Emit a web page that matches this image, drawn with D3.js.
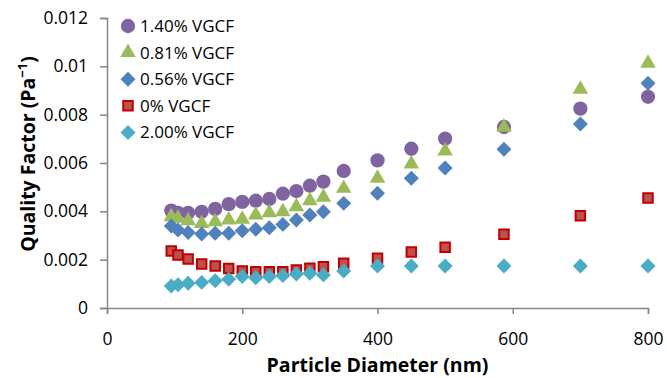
<!DOCTYPE html>
<html>
<head>
<meta charset="utf-8">
<script src="https://cdn.jsdelivr.net/npm/d3@7"></script>
<style>
  body { margin: 0; background: #fff; }
  svg text { font-family: "Open Sans", "DejaVu Sans", sans-serif; fill: #000; }
</style>
</head>
<body>
<div id="chart"></div>
<script>
// particle diameters (nm)
var diam = [95, 105, 120, 140, 160, 180, 200, 220, 240, 260, 280, 300, 320, 350, 400, 450, 500, 587, 700, 800];

// quality factor per VGCF loading (Pa^-1)
var qf140 = [0.00403, 0.00394, 0.00394, 0.00398, 0.0041, 0.0043, 0.00439, 0.00444, 0.00451, 0.00473, 0.00484, 0.00506, 0.00523,
             0.00567, 0.00611, 0.00659, 0.00701, 0.00749, 0.00825, 0.00874];
var qf081 = [0.00378, 0.00371, 0.00361, 0.0035, 0.00357, 0.00364, 0.00367, 0.00385, 0.00394, 0.00398, 0.00419, 0.00444, 0.00458,
             0.00495, 0.00537, 0.00596, 0.0065, 0.00748, 0.00905, 0.01013];
var qf056 = [0.00339, 0.00323, 0.00312, 0.00306, 0.00309, 0.00309, 0.0032, 0.00326, 0.00332, 0.00346, 0.00364, 0.00385, 0.00398,
             0.00433, 0.00475, 0.00537, 0.00579, 0.00657, 0.00761, 0.0093];
var qf000 = [0.00236, 0.00219, 0.00203, 0.00182, 0.00174, 0.00163, 0.00153, 0.0015, 0.0015, 0.0015, 0.00157, 0.00164, 0.00171,
             0.00185, 0.00206, 0.00232, 0.00251, 0.00305, 0.00382, 0.00455];
var qf200 = [0.00091, 0.00096, 0.00102, 0.00106, 0.00113, 0.00119, 0.0013, 0.00125, 0.0013, 0.00134, 0.00141, 0.00144, 0.00137,
             0.00153, 0.00174, 0.00174, 0.00174, 0.00174, 0.00174, 0.00174];

var seriesNames = ["1.40% VGCF", "0.81% VGCF", "0.56% VGCF", "0% VGCF", "2.00% VGCF"];
var xTicks = [0, 200, 400, 600, 800];
var yTicks = [0, 0.002, 0.004, 0.006, 0.008, 0.01, 0.012];

var W = 667, H = 378;
var margin = {top: 18, right: 19, bottom: 70, left: 107};

var svg = d3.select("#chart").append("svg")
    .attr("width", W).attr("height", H);

var x = d3.scaleLinear().domain([0, 800]).range([margin.left, W - margin.right]);
var y = d3.scaleLinear().domain([0, 0.012]).range([H - margin.bottom, margin.top]);

var axisColor = "#868686";

// axes
var gx = svg.append("g")
    .attr("transform", "translate(0," + y(0) + ")")
    .call(d3.axisBottom(x).tickValues(xTicks).tickSizeOuter(0).tickSize(6).tickPadding(19)
        .tickFormat(d3.format("d")));
var gy = svg.append("g")
    .attr("transform", "translate(" + x(0) + ",0)")
    .call(d3.axisLeft(y).tickValues(yTicks).tickSizeOuter(0).tickSize(7).tickPadding(12)
        .tickFormat(function(d) { return String(+d.toFixed(3)); }));

[gx, gy].forEach(function(g) {
  g.select(".domain").attr("stroke", axisColor).attr("stroke-width", 1.5);
  g.selectAll(".tick line").attr("stroke", axisColor).attr("stroke-width", 1.5);
  g.selectAll(".tick text").style("font-size", "17.5px").attr("fill", "#000");
});

// axis titles
svg.append("text")
    .attr("x", (x(0) + x(800)) / 2).attr("y", 372)
    .attr("text-anchor", "middle")
    .style("font-size", "19.5px").style("font-weight", "bold")
    .text("Particle Diameter (nm)");

var yt = svg.append("text")
    .attr("transform", "translate(35,154) rotate(-90)")
    .attr("text-anchor", "middle")
    .style("font-size", "19.5px").style("font-weight", "bold");
yt.append("tspan").text("Quality Factor (Pa");
yt.append("tspan").attr("dy", -8).style("font-size", "13px").text("\u22121");
yt.append("tspan").attr("dy", 8).text(")");

// marker styles
var diamond = {
  draw: function(ctx, size) {
    var r = Math.sqrt(size / 2);
    ctx.moveTo(0, -r); ctx.lineTo(r, 0); ctx.lineTo(0, r); ctx.lineTo(-r, 0); ctx.closePath();
  }
};
var styles = [
  {type: d3.symbolCircle, size: 160, fill: "#8064A2", stroke: "none", sw: 0},
  {type: d3.symbolTriangle, size: 105, fill: "#9BBB59", stroke: "none", sw: 0},
  {type: diamond, size: 112, fill: "#4F81BD", stroke: "none", sw: 0},
  {type: d3.symbolSquare, size: 90, fill: "#C0504D", stroke: "#C00000", sw: 2},
  {type: diamond, size: 112, fill: "#4BACC6", stroke: "none", sw: 0}
];
var allSeries = [qf140, qf081, qf056, qf000, qf200];

allSeries.forEach(function(vals, i) {
  var st = styles[i];
  svg.append("g").selectAll("path")
    .data(vals)
    .enter().append("path")
    .attr("d", d3.symbol().type(st.type).size(st.size))
    .attr("transform", function(d, j) { return "translate(" + x(diam[j]) + "," + y(d) + ")"; })
    .attr("fill", st.fill)
    .attr("stroke", st.stroke)
    .attr("stroke-width", st.sw);
});

// legend
var legend = svg.append("g").attr("transform", "translate(128,26)");
seriesNames.forEach(function(name, i) {
  var st = styles[i];
  var row = legend.append("g").attr("transform", "translate(0," + (i * 26.6) + ")");
  row.append("path")
    .attr("d", d3.symbol().type(st.type).size(st.size))
    .attr("fill", st.fill)
    .attr("stroke", st.stroke)
    .attr("stroke-width", st.sw);
  row.append("text")
    .attr("x", 12).attr("dy", "0.35em")
    .style("font-size", "17px")
    .text(name);
});
</script>
</body>
</html>
